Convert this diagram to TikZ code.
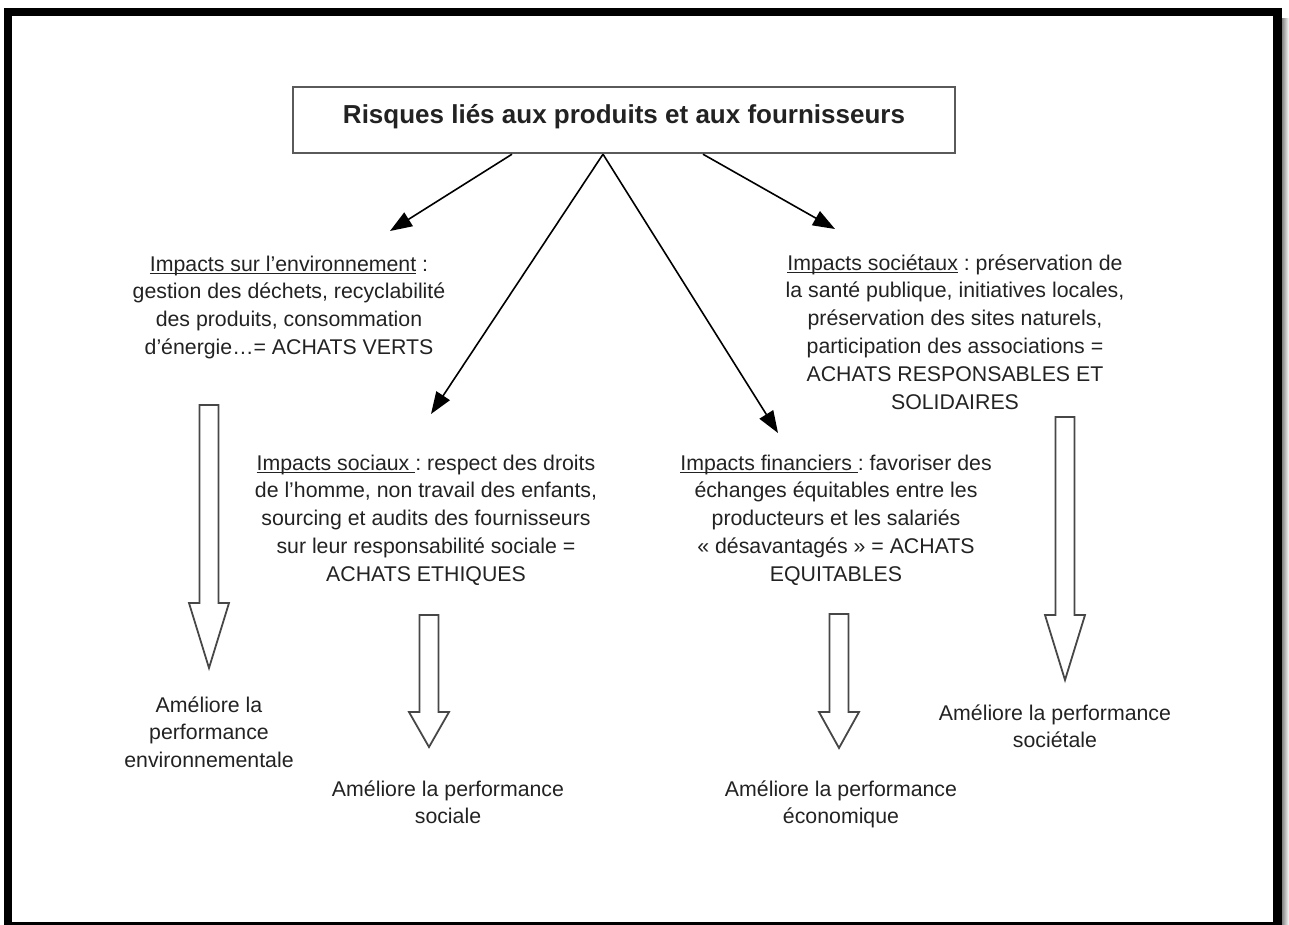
\documentclass[tikz,border=0pt]{standalone}
\usepackage{fontspec}
\setmainfont{Liberation Sans}
\usetikzlibrary{arrows.meta,calc}
\frenchspacing

\definecolor{ink}{HTML}{222222}
\definecolor{boxline}{HTML}{5A5A5A}
\definecolor{hollowline}{HTML}{474747}

% underline with a fixed rule below the baseline
\newsavebox\ulbox
\newcommand\undl[1]{\sbox\ulbox{#1}\rlap{\rule[-2.8pt]{\wd\ulbox}{1.3pt}}\usebox\ulbox}

% hollow downward block arrow: centre x, top, start of head, tip
\newcommand\hollowarrow[4]{%
  \draw[hollow] (#1-9.5,#2) -- (#1+9.5,#2) -- (#1+9.5,#3) -- (#1+20,#3)
    -- (#1,#4) -- (#1-20,#3) -- (#1-9.5,#3) -- cycle;}

\begin{document}
\begin{tikzpicture}[x=1pt,y=-1pt,
  % multi-line texts are placed by the baseline of their last line
  txt/.style={font=\fontsize{21.3}{27.8}\selectfont, text=ink, align=center,
              inner sep=0pt, anchor=base},
  titlebox/.style={draw=boxline, line width=2.4pt, minimum width=662pt,
              minimum height=66pt, inner sep=0pt, text=ink,
              font=\bfseries\fontsize{26}{30}\selectfont,
              text height=20pt, text depth=14pt},
  link/.style={draw=black, line width=1.6pt,
              -{Triangle[length=22pt,width=16pt]}},
  hollow/.style={draw=hollowline, line width=1.8pt, fill=white, line join=miter}]

\useasboundingbox (0,0) rectangle (1289,924);
\clip (0,0) rectangle (1289,924);

% page frame with its shadow
\shade[left color=black!55, right color=white] (1281,18) rectangle (1289,924);
\draw[line width=8.5pt] (8,12) rectangle (1277.5,926);

% heading
\node[titlebox] (title) at (624,120) {Risques liés aux produits et aux fournisseurs};

% the four impact families
\node[txt] (env) at (289,354.4) {\undl{Impacts sur l’environnement} :\\
  gestion des déchets, recyclabilité\\des produits, consommation\\
  d’énergie…= ACHATS VERTS};
\node[txt] (soc) at (426,581.2) {\undl{Impacts sociaux }: respect des droits\\
  de l’homme, non travail des enfants,\\sourcing et audits des fournisseurs\\
  sur leur responsabilité sociale =\\ACHATS ETHIQUES};
\node[txt] (fin) at (836,581.2) {\undl{Impacts financiers }: favoriser des\\
  échanges équitables entre les\\producteurs et les salariés\\
  « désavantagés » = ACHATS\\EQUITABLES};
\node[txt] (soct) at (955,409) {\undl{Impacts sociétaux} : préservation de\\
  la santé publique, initiatives locales,\\préservation des sites naturels,\\
  participation des associations =\\ACHATS RESPONSABLES ET\\SOLIDAIRES};

% arrows from the heading
\coordinate (t1) at (390,231);
\coordinate (t2) at (431,414);
\coordinate (t3) at (778,433);
\coordinate (t4) at (835,229);
\draw[link] ($(title.south)+(-112,0)$) -- (t1);
\draw[link] ($(title.south)+(-21,0)$) -- (t2);
\draw[link] ($(title.south)+(-21,0)$) -- (t3);
\draw[link] ($(title.south)+(79,0)$) -- (t4);

% hollow arrows towards the results
\hollowarrow{209}{405}{603}{668}
\hollowarrow{429}{615}{712}{747}
\hollowarrow{839}{614}{712}{748}
\hollowarrow{1065}{417}{615}{680}

% results
\node[txt] (envres) at (209,767.6) {Améliore la\\performance\\environnementale};
\node[txt] (socres) at (448,823.8) {Améliore la performance\\sociale};
\node[txt] (finres) at (841,823.8) {Améliore la performance\\économique};
\node[txt] (soctres) at (1055,747.8) {Améliore la performance\\sociétale};

\end{tikzpicture}
\end{document}
